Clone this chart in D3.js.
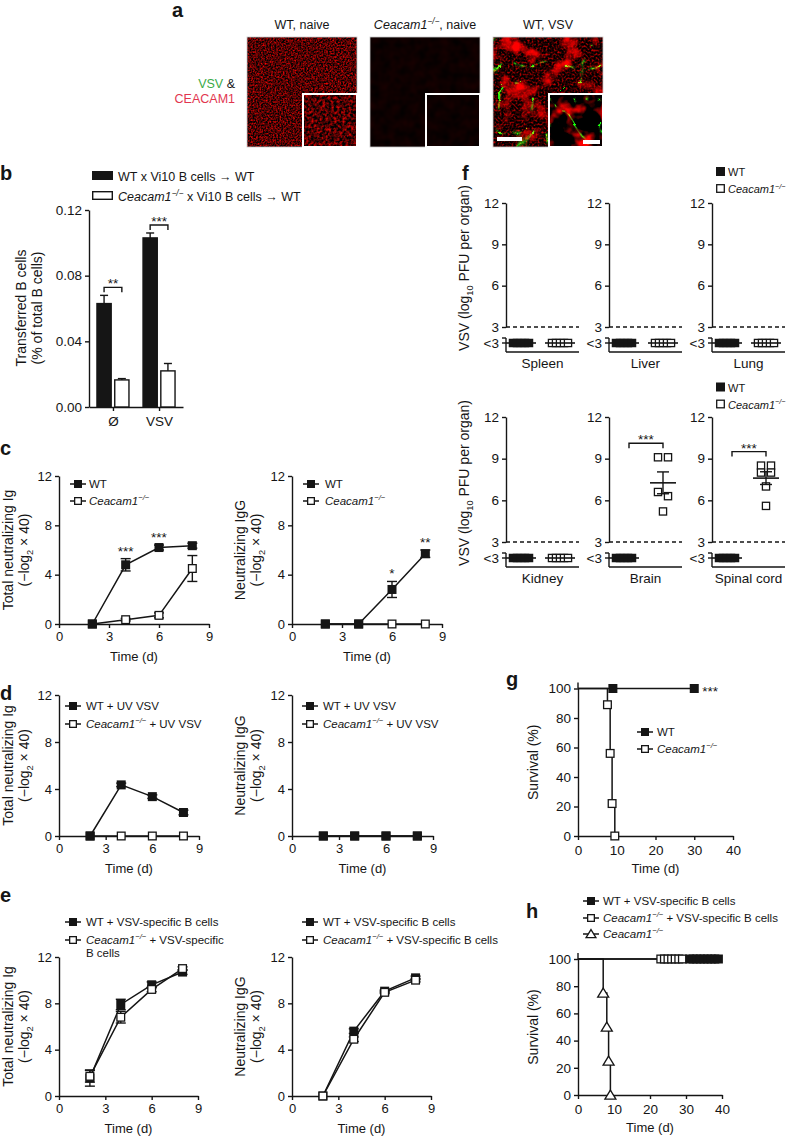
<!DOCTYPE html>
<html><head><meta charset="utf-8">
<script src="https://cdn.jsdelivr.net/npm/d3@7"></script>
<style>
body{margin:0;background:#fff;}
svg{display:block;font-family:"Liberation Sans",Arial,Helvetica,sans-serif;}
</style></head><body>
<svg id="fig" width="788" height="1136">
<defs>
<filter id="fa0" x="0" y="0" width="1" height="1" color-interpolation-filters="sRGB">
 <feTurbulence type="fractalNoise" baseFrequency="0.6" numOctaves="2" seed="4"/>
 <feColorMatrix type="matrix" values="1.8 0 0 0 -0.58  0 0 0 0 0.01  0 0 0 0 0.01  0 0 0 0 1"/>
</filter>
<filter id="fa0i" x="0" y="0" width="1" height="1" color-interpolation-filters="sRGB">
 <feTurbulence type="fractalNoise" baseFrequency="0.35" numOctaves="2" seed="9"/>
 <feColorMatrix type="matrix" values="1.8 0 0 0 -0.6  0 0 0 0 0.01  0 0 0 0 0.01  0 0 0 0 1"/>
</filter>
<filter id="fa1" x="0" y="0" width="1" height="1" color-interpolation-filters="sRGB">
 <feTurbulence type="fractalNoise" baseFrequency="0.1" numOctaves="2" seed="2"/>
 <feColorMatrix type="matrix" values="0.12 0 0 0 -0.01  0 0 0 0 0.0  0 0 0 0 0.0  0 0 0 0 1"/>
</filter>
<filter id="fa2" x="0" y="0" width="1" height="1" color-interpolation-filters="sRGB">
 <feTurbulence type="fractalNoise" baseFrequency="0.05" numOctaves="3" seed="11" result="big"/>
 <feColorMatrix in="big" type="matrix" values="4 0 0 0 -2.05  0 0 0 0 0  0 0 0 0 0  0 0 0 0 1" result="redBig"/>
 <feTurbulence type="fractalNoise" baseFrequency="0.5" numOctaves="1" seed="5" result="fine"/>
 <feColorMatrix in="fine" type="matrix" values="2 0 0 0 -0.85  0 0 0 0 0  0 0 0 0 0  0 0 0 0 1" result="redFine"/>
 <feBlend in="redBig" in2="redFine" mode="screen" result="red"/>
 <feTurbulence type="turbulence" baseFrequency="0.03" numOctaves="2" seed="21" result="t"/>
 <feColorMatrix in="t" type="matrix" values="0 0 0 0 0.1  -10 0 0 0 0.95  0 0 0 0 0.05  -10 0 0 0 0.95" result="green"/>
 <feBlend in="green" in2="red" mode="screen"/>
</filter>
<filter id="fa2i" x="0" y="0" width="1" height="1" color-interpolation-filters="sRGB">
 <feTurbulence type="fractalNoise" baseFrequency="0.06" numOctaves="3" seed="13" result="big"/>
 <feColorMatrix in="big" type="matrix" values="4 0 0 0 -2.0  0 0 0 0 0  0 0 0 0 0  0 0 0 0 1" result="red"/>
 <feTurbulence type="turbulence" baseFrequency="0.04" numOctaves="2" seed="3" result="t"/>
 <feColorMatrix in="t" type="matrix" values="0 0 0 0 0.1  -8 0 0 0 1.0  0 0 0 0 0.05  -8 0 0 0 1.0" result="green"/>
 <feBlend in="green" in2="red" mode="screen"/>
</filter>
</defs>
</svg>
<script>
// ================= DATA =================
const imgFilters = ["fa0", "fa1", "fa2"];
const imgInsetFilters = ["fa0i", "fa1", "fa2i"];

const bGroups = ["Ø", "VSV"];
const bWT = [0.063, 0.103];
const bWTerr = [0.005, 0.003];
const bKO = [0.0165, 0.022];
const bKOerr = [0.0008, 0.0045];
const bSig = ["**", "***"];
const bTicks = [0, 0.04, 0.08, 0.12];

const days = [2, 4, 6, 8];
const timeTicks = [0, 3, 6, 9];
const titerTicks = [0, 4, 8, 12];

const cIgWT = [0, 4.8, 6.2, 6.35];
const cIgWTerr = [0, 0.5, 0.2, 0.2];
const cIgKO = [0, 0.35, 0.7, 4.5];
const cIgKOerr = [0, 0.1, 0.2, 1.05];
const cIgSig = ["", "***", "***", ""];
const cIgGWT = [0, 0, 2.8, 5.7];
const cIgGWTerr = [0, 0, 0.65, 0.3];
const cIgGKO = [0, 0, 0, 0];
const cIgGSig = ["", "", "*", "**"];

const dIgWT = [0, 4.35, 3.35, 2.0];
const dIgWTerr = [0, 0.15, 0.15, 0.2];
const dIgKO = [0, 0, 0, 0];
const dIgGWT = [0, 0, 0, 0];
const dIgGKO = [0, 0, 0, 0];

const eIgWT = [1.55, 7.9, 9.6, 10.7];
const eIgWTerr = [0.7, 0.45, 0.25, 0.2];
const eIgKO = [1.7, 6.8, 9.2, 11.0];
const eIgKOerr = [0.5, 0.5, 0.2, 0.15];
const eIgGWT = [0, 5.6, 9.05, 10.2];
const eIgGWTerr = [0, 0.2, 0.1, 0.15];
const eIgGKO = [0, 4.9, 8.95, 10.0];
const eIgGKOerr = [0, 0.2, 0.1, 0.15];

const fOrgans = ["Spleen", "Liver", "Lung", "Kidney", "Brain", "Spinal cord"];
const fTicks = [3, 6, 9, 12];
// 0 = below detection limit (<3)
const fWT = [[0,0,0,0,0],[0,0,0,0,0],[0,0,0,0,0],[0,0,0,0,0],[0,0,0,0,0],[0,0,0,0,0]];
const fKO = [[0,0,0,0,0],[0,0,0,0,0],[0,0,0,0,0],[0,0,0,0,0],[9.1,9.1,6.6,6.3,5.2],[8.5,8.5,8.0,8.0,7.0,5.6]];
const fSig = ["", "", "", "", "***", "***"];

const survTicksX = [0, 10, 20, 30, 40];
const survTicksY = [0, 20, 40, 60, 80, 100];
const gWTtime = [0, 9, 30];
const gWTsurv = [100, 100, 100];
const gKOtime = [0, 7.6, 8.3, 8.8, 9.5];
const gKOsurv = [100, 89, 56, 22, 0];
const gSig = "***";
const hWTtime = [0, 31, 32, 33, 34, 35, 36, 37, 38, 39];
const hWTsurv = [100, 100, 100, 100, 100, 100, 100, 100, 100, 100];
const hKOBtime = [0, 23, 24, 25, 26, 27, 28, 29];
const hKOBsurv = [100, 100, 100, 100, 100, 100, 100, 100];
const hKOtime = [0, 7, 8, 8.5, 9];
const hKOsurv = [100, 75, 50, 25, 0];

// ================= HELPERS =================
const INK = "#151515";
const TICK = 13.5, TITLE = 14;
const svg = d3.select("#fig");
const root = svg.append("g");
const koParts = [{t: "Ceacam1", i: 1}, {t: "−/−", sup: 1, i: 1}];

function addText(parent, x, y, parts, o = {}) {
  const S = o.size || 12;
  const t = parent.append("text").attr("x", x).attr("y", y)
    .attr("font-size", S).attr("text-anchor", o.anchor || "start")
    .attr("fill", o.fill || INK);
  if (o.weight) t.attr("font-weight", o.weight);
  if (o.rotate) t.attr("transform", `rotate(-90,${x},${y})`);
  if (typeof parts === "string") parts = [parts];
  let shift = 0;
  parts.forEach(p => {
    if (typeof p === "string") p = {t: p};
    const ts = t.append("tspan").text(p.t);
    const target = p.sup ? -0.4 * S : p.sub ? 0.3 * S : 0;
    if (target !== shift) { ts.attr("dy", target - shift); shift = target; }
    if (p.sup || p.sub) ts.attr("font-size", 0.66 * S);
    if (p.i) ts.attr("font-style", "italic");
    if (p.fill) ts.attr("fill", p.fill);
  });
  return t;
}

function styleAxis(sel, size) {
  sel.attr("font-family", null).attr("font-size", null);
  sel.select(".domain").attr("stroke", INK).attr("stroke-width", 1.4);
  sel.selectAll(".tick line").attr("stroke", INK).attr("stroke-width", 1.4);
  sel.selectAll(".tick text").attr("font-size", size).attr("fill", INK);
}

function marker(g, type, x, y, s) {
  if (type === "sqF") {
    g.append("rect").attr("x", x - s / 2).attr("y", y - s / 2).attr("width", s).attr("height", s).attr("fill", INK);
  } else if (type === "sqO") {
    const r = s - 1.3;
    g.append("rect").attr("x", x - r / 2).attr("y", y - r / 2).attr("width", r).attr("height", r)
      .attr("fill", "#fff").attr("stroke", INK).attr("stroke-width", 1.3);
  } else if (type === "triO") {
    const h = s * 0.9, w = s * 0.55;
    g.append("path").attr("d", `M${x},${y - h * 0.55}L${x + w},${y + h * 0.45}L${x - w},${y + h * 0.45}Z`)
      .attr("fill", "#fff").attr("stroke", INK).attr("stroke-width", 1.3);
  }
}

function hline(g, x1, x2, y, w = 1.4) {
  g.append("line").attr("x1", x1).attr("x2", x2).attr("y1", y).attr("y2", y).attr("stroke", INK).attr("stroke-width", w);
}
function vline(g, x, y1, y2, w = 1.4) {
  g.append("line").attr("x1", x).attr("x2", x).attr("y1", y1).attr("y2", y2).attr("stroke", INK).attr("stroke-width", w);
}

function panelLabel(x, y, t) {
  addText(root, x, y, t, {size: 20, weight: "bold"});
}

// ================= PANEL A =================
(function () {
  const g = root.append("g");
  const xs = [247, 370, 493], y0 = 37, S = 110;
  xs.forEach((x, i) => {
    g.append("rect").attr("x", x).attr("y", y0).attr("width", S).attr("height", S)
      .attr("filter", `url(#${imgFilters[i]})`);
    g.append("rect").attr("x", x).attr("y", y0).attr("width", S).attr("height", S)
      .attr("fill", "none").attr("stroke", "#c8c8c8").attr("stroke-width", 0.8);
    g.append("rect").attr("x", x + 56).attr("y", y0 + 57).attr("width", 54).attr("height", 53)
      .attr("filter", `url(#${imgInsetFilters[i]})`);
    g.append("rect").attr("x", x + 56).attr("y", y0 + 57).attr("width", 54).attr("height", 53)
      .attr("fill", "none").attr("stroke", "#fff").attr("stroke-width", 2);
  });
  g.append("rect").attr("x", xs[2] + 4).attr("y", y0 + 100).attr("width", 25).attr("height", 4).attr("fill", "#fff");
  g.append("rect").attr("x", xs[2] + 90).attr("y", y0 + 103).attr("width", 17).attr("height", 4).attr("fill", "#fff");
  addText(g, xs[0] + 55, 29, "WT, naive", {anchor: "middle", size: 12.5});
  addText(g, xs[1] + 55, 29, [...koParts, ", naive"], {anchor: "middle", size: 12.5});
  addText(g, xs[2] + 55, 29, "WT, VSV", {anchor: "middle", size: 12.5});
  addText(g, 235, 88, [{t: "VSV", fill: "#3aaa48"}, {t: " &", fill: INK}], {anchor: "end", size: 12.5});
  addText(g, 235, 103, "CEACAM1", {anchor: "end", size: 12.5, fill: "#e2364f"});
  panelLabel(172, 17, "a");
})();

// ================= PANEL B =================
(function () {
  const g = root.append("g");
  const y = d3.scaleLinear().domain([0, 0.12]).range([407, 210]);
  const x = d3.scalePoint().domain(bGroups).range([89, 183]).padding(0.52);
  const inner = d3.scaleBand().domain([0, 1]).range([-16, 16]).paddingInner(0.2);
  const ay = g.append("g").attr("transform", "translate(89,0)")
    .call(d3.axisLeft(y).tickValues(bTicks).tickFormat(d3.format(".2f")).tickSize(4).tickSizeOuter(0).tickPadding(3));
  styleAxis(ay, TICK);
  const ax = g.append("g").attr("transform", "translate(0,407)")
    .call(d3.axisBottom(x).tickSize(4).tickSizeOuter(0).tickPadding(5));
  styleAxis(ax, TICK);
  const series = [{v: bWT, e: bWTerr, fill: INK}, {v: bKO, e: bKOerr, fill: "#fff"}];
  bGroups.forEach((grp, gi) => {
    series.forEach((s, si) => {
      const bx = x(grp) + inner(si), bw = inner.bandwidth();
      const top = y(s.v[gi]), et = y(s.v[gi] + s.e[gi]);
      vline(g, bx + bw / 2, top, et, 1.4);
      hline(g, bx + bw / 2 - 4, bx + bw / 2 + 4, et, 1.4);
      g.append("rect").attr("x", bx).attr("y", top).attr("width", bw).attr("height", 407 - top)
        .attr("fill", s.fill).attr("stroke", INK).attr("stroke-width", 1.4);
    });
    const topV = Math.max(bWT[gi] + bWTerr[gi], bKO[gi] + bKOerr[gi]);
    const yb = y(topV) - 8;
    const x1 = x(grp) + inner(0) + inner.bandwidth() / 2, x2 = x(grp) + inner(1) + inner.bandwidth() / 2;
    g.append("path").attr("d", `M${x1},${yb + 5}V${yb}H${x2}V${yb + 5}`).attr("fill", "none").attr("stroke", INK).attr("stroke-width", 1.4);
    addText(g, (x1 + x2) / 2, yb + 1, bSig[gi], {anchor: "middle", size: 13.5});
  });
  // legend
  g.append("rect").attr("x", 92).attr("y", 171).attr("width", 21).attr("height", 9).attr("fill", INK);
  addText(g, 118, 180.5, "WT x Vi10 B cells → WT", {size: 12.5});
  g.append("rect").attr("x", 92.7).attr("y", 191.7).attr("width", 19.6).attr("height", 7.6).attr("fill", "#fff").attr("stroke", INK).attr("stroke-width", 1.4);
  addText(g, 118, 200.5, [...koParts, " x Vi10 B cells → WT"], {size: 12.5});
  addText(g, 26, 308, "Transferred B cells", {rotate: true, anchor: "middle", size: TITLE});
  addText(g, 42, 308, "(% of total B cells)", {rotate: true, anchor: "middle", size: TITLE});
  panelLabel(0, 180, "b");
})();

// ================= LINE CHARTS (c, d, e) =================
function lineChart(c) {
  const x = d3.scaleLinear().domain([0, 9]).range([c.x0, c.x1]);
  const y = d3.scaleLinear().domain([0, 12]).range([c.yb, c.yt]);
  const g = root.append("g");
  const ax = g.append("g").attr("transform", `translate(0,${c.yb})`)
    .call(d3.axisBottom(x).tickValues(timeTicks).tickSize(4).tickSizeOuter(0).tickPadding(4));
  styleAxis(ax, 13);
  const ay = g.append("g").attr("transform", `translate(${c.x0},0)`)
    .call(d3.axisLeft(y).tickValues(titerTicks).tickSize(4).tickSizeOuter(0).tickPadding(3));
  styleAxis(ay, 13);
  c.series.forEach(s => {
    const pts = days.map((d, i) => ({d, v: s.v[i], e: s.e ? s.e[i] : 0}));
    pts.forEach(p => {
      if (p.e > 0) {
        const cx = x(p.d);
        vline(g, cx, y(p.v - p.e), y(p.v + p.e), 1.4);
        hline(g, cx - 5, cx + 5, y(p.v - p.e), 1.4);
        hline(g, cx - 5, cx + 5, y(p.v + p.e), 1.4);
      }
    });
    g.append("path").attr("d", d3.line().x(p => x(p.d)).y(p => y(p.v))(pts))
      .attr("fill", "none").attr("stroke", INK).attr("stroke-width", 1.5);
    pts.forEach(p => marker(g, s.m, x(p.d), y(p.v), 9));
  });
  if (c.sig) c.sig.forEach((t, i) => {
    if (!t) return;
    const top = Math.max(...c.series.map(s => s.v[i] + (s.e ? s.e[i] : 0)));
    addText(g, x(days[i]), y(top) - 3, t, {anchor: "middle", size: 13.5});
  });
  c.legend.forEach((row, i) => {
    const yy = c.ly[i];
    hline(g, c.lx - 8, c.lx + 8, yy, 1.5);
    marker(g, row.m, c.lx, yy, 8);
    addText(g, c.tx, yy + 4, row.parts, {size: 11.5});
  });
  if (c.extra) addText(g, c.tx, c.extra.y, c.extra.t, {size: 11.5});
  const mid = (c.yb + c.yt) / 2;
  addText(g, c.ylx[0], mid, c.ylab[0], {rotate: true, anchor: "middle", size: TITLE});
  addText(g, c.ylx[1], mid, c.ylab[1], {rotate: true, anchor: "middle", size: TITLE});
  addText(g, (c.x0 + c.x1) / 2, c.yb + 37, "Time (d)", {anchor: "middle", size: 13});
}
const ylabTotal = ["Total neutralizing Ig", ["(−log", {t: "2", sub: 1}, " × 40)"]];
const ylabIgG = ["Neutralizing IgG", ["(−log", {t: "2", sub: 1}, " × 40)"]];

// c
lineChart({x0: 59, x1: 209, yb: 624, yt: 476,
  series: [{v: cIgKO, e: cIgKOerr, m: "sqO"}, {v: cIgWT, e: cIgWTerr, m: "sqF"}],
  sig: cIgSig, lx: 78, tx: 89, ly: [484, 501],
  legend: [{m: "sqF", parts: ["WT"]}, {m: "sqO", parts: koParts}],
  ylx: [13, 29], ylab: ylabTotal});
lineChart({x0: 292, x1: 442, yb: 624, yt: 476,
  series: [{v: cIgGKO, m: "sqO"}, {v: cIgGWT, e: cIgGWTerr, m: "sqF"}],
  sig: cIgGSig, lx: 311, tx: 325, ly: [484, 501],
  legend: [{m: "sqF", parts: ["WT"]}, {m: "sqO", parts: koParts}],
  ylx: [245, 261], ylab: ylabIgG});
panelLabel(0, 455, "c");

// d
lineChart({x0: 59, x1: 199, yb: 836, yt: 695,
  series: [{v: dIgKO, m: "sqO"}, {v: dIgWT, e: dIgWTerr, m: "sqF"}],
  lx: 73, tx: 86, ly: [706, 724],
  legend: [{m: "sqF", parts: ["WT + UV VSV"]}, {m: "sqO", parts: [...koParts, " + UV VSV"]}],
  ylx: [13, 29], ylab: ylabTotal});
lineChart({x0: 292, x1: 433, yb: 836, yt: 695,
  series: [{v: dIgGKO, m: "sqO"}, {v: dIgGWT, m: "sqF"}],
  lx: 310, tx: 323, ly: [706, 724],
  legend: [{m: "sqF", parts: ["WT + UV VSV"]}, {m: "sqO", parts: [...koParts, " + UV VSV"]}],
  ylx: [245, 261], ylab: ylabIgG});
panelLabel(0, 700, "d");

// e
lineChart({x0: 59, x1: 198, yb: 1096, yt: 957,
  series: [{v: eIgWT, e: eIgWTerr, m: "sqF"}, {v: eIgKO, e: eIgKOerr, m: "sqO"}],
  lx: 73, tx: 86, ly: [922, 940], extra: {y: 957, t: "B cells"},
  legend: [{m: "sqF", parts: ["WT + VSV-specific B cells"]}, {m: "sqO", parts: [...koParts, " + VSV-specific"]}],
  ylx: [13, 29], ylab: ylabTotal});
lineChart({x0: 292, x1: 431, yb: 1096, yt: 957,
  series: [{v: eIgGWT, e: eIgGWTerr, m: "sqF"}, {v: eIgGKO, e: eIgGKOerr, m: "sqO"}],
  lx: 310, tx: 323, ly: [922, 940],
  legend: [{m: "sqF", parts: ["WT + VSV-specific B cells"]}, {m: "sqO", parts: [...koParts, " + VSV-specific B cells"]}],
  ylx: [245, 261], ylab: ylabIgG});
panelLabel(0, 902, "e");

// ================= PANEL F =================
function swarm(vals, spFew, spMany, tol) {
  const idx = vals.map((v, i) => i).sort((a, b) => vals[b] - vals[a]);
  const groups = [];
  idx.forEach(i => {
    const last = groups[groups.length - 1];
    if (last && Math.abs(vals[last[0]] - vals[i]) <= tol) last.push(i); else groups.push([i]);
  });
  const off = new Array(vals.length).fill(0);
  groups.forEach(gr => {
    const n = gr.length, sp = n > 3 ? spMany : spFew;
    gr.forEach((i, j) => off[i] = (j - (n - 1) / 2) * sp);
  });
  return off;
}
function fChart(k) {
  const row = k < 3 ? 0 : 1, col = k % 3;
  const ax0 = [506, 609, 712][col];
  const y3 = row ? 542 : 327, y12 = row ? 417 : 203;
  const W = 73;
  const y = d3.scaleLinear().domain([3, 12]).range([y3, y12]);
  const yLow = y3 + 16;
  const g = root.append("g");
  const ay = g.append("g").attr("transform", `translate(${ax0},0)`)
    .call(d3.axisLeft(y).tickValues(fTicks).tickSize(4).tickSizeOuter(0).tickPadding(3));
  styleAxis(ay, TICK);
  vline(g, ax0, y3 + 11, y3 + 25);
  hline(g, ax0 - 4, ax0, y3 + 11);
  hline(g, ax0 - 4, ax0, yLow);
  addText(g, ax0 - 7, yLow + 4.5, "<3", {anchor: "end", size: TICK});
  hline(g, ax0, ax0 + W, y3 + 25);
  g.append("line").attr("x1", ax0).attr("x2", ax0 + W).attr("y1", y3).attr("y2", y3)
    .attr("stroke", INK).attr("stroke-width", 1.3).attr("stroke-dasharray", "4,3");
  const groups = [{v: fWT[k], cx: ax0 + 15, m: "sqF"}, {v: fKO[k], cx: ax0 + 54, m: "sqO"}];
  groups.forEach(gr => {
    const off = swarm(gr.v, 10, 4, 0.35);
    const py = v => v <= 0 ? yLow : y(v);
    gr.v.forEach((v, i) => marker(g, gr.m, gr.cx + off[i], py(v), 8.5));
    const mean = d3.mean(gr.v);
    if (mean <= 0) {
      hline(g, gr.cx - 15, gr.cx + 15, yLow, 1.6);
    } else {
      const sem = d3.deviation(gr.v) / Math.sqrt(gr.v.length);
      vline(g, gr.cx, y(mean - sem), y(mean + sem), 1.4);
      hline(g, gr.cx - 6, gr.cx + 6, y(mean - sem), 1.4);
      hline(g, gr.cx - 6, gr.cx + 6, y(mean + sem), 1.4);
      hline(g, gr.cx - 13, gr.cx + 13, y(mean), 1.6);
    }
  });
  if (fSig[k]) {
    const yb = y(d3.max(fKO[k])) - 14;
    const x1 = ax0 + 20, x2 = ax0 + 54;
    g.append("path").attr("d", `M${x1},${yb + 5}V${yb}H${x2}V${yb + 5}`).attr("fill", "none").attr("stroke", INK).attr("stroke-width", 1.4);
    addText(g, (x1 + x2) / 2, yb + 1, fSig[k], {anchor: "middle", size: 13.5});
  }
  addText(g, ax0 + W / 2, y3 + 41, fOrgans[k], {anchor: "middle", size: TICK});
}
for (let k = 0; k < 6; k++) fChart(k);
(function () {
  const g = root.append("g");
  [[171.5, 188.5], [387, 404]].forEach(([a, b]) => {
    g.append("rect").attr("x", 716).attr("y", a - 4.5).attr("width", 9).attr("height", 9).attr("fill", INK);
    addText(g, 728, a + 4.5, "WT", {size: 11});
    g.append("rect").attr("x", 716.7).attr("y", b - 3.8).attr("width", 7.6).attr("height", 7.6).attr("fill", "#fff").attr("stroke", INK).attr("stroke-width", 1.3);
    addText(g, 728, b + 4.5, koParts, {size: 11});
  });
  const lab = ["VSV (log", {t: "10", sub: 1}, " PFU per organ)"];
  addText(g, 469, 268, lab, {rotate: true, anchor: "middle", size: TITLE});
  addText(g, 469, 483, lab, {rotate: true, anchor: "middle", size: TITLE});
  panelLabel(462, 180, "f");
})();

// ================= SURVIVAL (g, h) =================
function survChart(c) {
  const x = d3.scaleLinear().domain([0, 40]).range([c.x0, c.x1]);
  const y = d3.scaleLinear().domain([0, 100]).range([c.yb, c.yt]);
  const g = root.append("g");
  const ax = g.append("g").attr("transform", `translate(0,${c.yb})`)
    .call(d3.axisBottom(x).tickValues(survTicksX).tickSize(4).tickSizeOuter(0).tickPadding(5));
  styleAxis(ax, TICK);
  const ay = g.append("g").attr("transform", `translate(${c.x0},0)`)
    .call(d3.axisLeft(y).tickValues(survTicksY).tickSize(4).tickSizeOuter(0).tickPadding(3));
  styleAxis(ay, TICK);
  vline(g, c.x0, c.yt - 6, c.yt);
  const line = d3.line().x(p => x(p[0])).y(p => y(p[1])).curve(d3.curveStepAfter);
  c.series.forEach(s => {
    const pts = s.t.map((t, i) => [t, s.s[i]]);
    g.append("path").attr("d", line(pts)).attr("fill", "none").attr("stroke", INK).attr("stroke-width", 1.5);
  });
  c.series.forEach(s => {
    s.t.forEach((t, i) => { if (i > 0) marker(g, s.m, x(t), y(s.s[i]), s.m === "triO" ? 10 : 9); });
  });
  c.legend.forEach((row, i) => {
    const yy = c.ly[i];
    hline(g, c.lx - 8, c.lx + 8, yy, 1.5);
    marker(g, row.m, c.lx, yy, row.m === "triO" ? 9 : 8);
    addText(g, c.tx, yy + 4, row.parts, {size: 11.5});
  });
  addText(g, c.ylabX, (c.yb + c.yt) / 2, "Survival (%)", {rotate: true, anchor: "middle", size: TITLE});
  addText(g, (c.x0 + c.x1) / 2, c.yb + 37, "Time (d)", {anchor: "middle", size: 13});
  return {g, x, y};
}
(function () {
  const r = survChart({x0: 578, x1: 733, yb: 836, yt: 688.5,
    series: [{t: gKOtime, s: gKOsurv, m: "sqO"}, {t: gWTtime, s: gWTsurv, m: "sqF"}],
    lx: 645, tx: 657, ly: [732, 749],
    legend: [{m: "sqF", parts: ["WT"]}, {m: "sqO", parts: koParts}], ylabX: 538});
  addText(r.g, r.x(gWTtime[gWTtime.length - 1]) + 8, r.y(100) + 7, gSig, {size: 13.5});
  panelLabel(506, 686, "g");
  survChart({x0: 578, x1: 722, yb: 1095, yt: 959,
    series: [{t: hKOtime, s: hKOsurv, m: "triO"}, {t: hKOBtime, s: hKOBsurv, m: "sqO"}, {t: hWTtime, s: hWTsurv, m: "sqF"}],
    lx: 591, tx: 603, ly: [901, 918, 934],
    legend: [{m: "sqF", parts: ["WT + VSV-specific B cells"]}, {m: "sqO", parts: [...koParts, " + VSV-specific B cells"]}, {m: "triO", parts: koParts}],
    ylabX: 538});
  panelLabel(526, 918, "h");
})();
</script>
</body></html>
